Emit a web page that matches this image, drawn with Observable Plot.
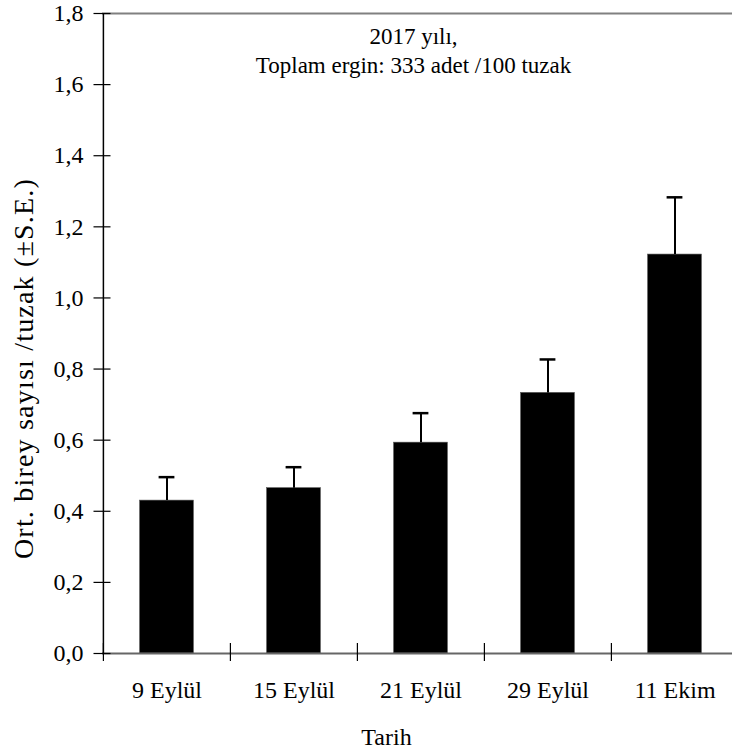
<!DOCTYPE html>
<html>
<head>
<meta charset="utf-8">
<script src="https://cdn.jsdelivr.net/npm/d3@7"></script>
<script src="https://cdn.jsdelivr.net/npm/@observablehq/plot@0.6"></script>
<style>
  html, body { margin: 0; padding: 0; background: #fff; }
</style>
</head>
<body>
<div id="chart"></div>
<script>
// Categories (sampling dates)
const dates = ["9 Eylül", "15 Eylül", "21 Eylül", "29 Eylül", "11 Ekim"];
// Mean individuals per trap
const means = [0.43, 0.465, 0.593, 0.733, 1.122];
// Standard errors
const errors = [0.066, 0.059, 0.083, 0.094, 0.161];
// Y tick values
const yTicks = [0, 0.2, 0.4, 0.6, 0.8, 1.0, 1.2, 1.4, 1.6, 1.8];
// Texts
const titleText = "2017 yılı,\nToplam ergin: 333 adet /100 tuzak";
const yLabel = "Ort. birey sayısı /tuzak (±S.E.)";
const xLabel = "Tarih";

const data = dates.map((d, i) => ({date: d, mean: means[i], se: errors[i]}));

const W = 732, H = 756;
const mL = 102, mT = 13, mB = 103;
const xRange = [102, 738];
const step = (xRange[1] - xRange[0]) / dates.length;
const barW = 54, capW = 16;
const fmt = d => d.toFixed(1).replace(".", ",");
const font = "Liberation Serif, Times New Roman, serif";

const chart = Plot.plot({
  width: W, height: H,
  marginLeft: mL, marginRight: 0, marginTop: mT, marginBottom: mB,
  style: {fontFamily: font, fontSize: "24px", background: "#fff", color: "#000"},
  x: {domain: dates, range: xRange, padding: 0, axis: null},
  y: {domain: [0, 1.8], axis: null},
  marks: [
    Plot.ruleY([1.8], {stroke: "#808080", strokeWidth: 2}),
    Plot.barY(data, {x: "date", y: "mean", fill: "#000", stroke: "#555", strokeWidth: 0.6,
      insetLeft: (step - barW) / 2, insetRight: (step - barW) / 2}),
    Plot.ruleX(data, {x: "date", y1: "mean", y2: d => d.mean + d.se, stroke: "#000", strokeWidth: 2}),
    Plot.tickY(data, {x: "date", y: d => d.mean + d.se, stroke: "#000", strokeWidth: 2.5,
      insetLeft: (step - capW) / 2, insetRight: (step - capW) / 2}),
    Plot.ruleY([0], {stroke: "#666", strokeWidth: 2}),
    Plot.ruleX([dates[0]], {x: d => d, dx: -step / 2, y1: 0, y2: 1.8, stroke: "#000", strokeWidth: 1.5}),
    // Y axis: labels
    Plot.axisY(yTicks, {anchor: "left", tickFormat: fmt, tickSize: 0, tickPadding: 19, fontSize: 24, fontFamily: font, label: null}),
    // Y axis: crossing ticks (no labels)
    Plot.axisY(yTicks, {anchor: "left", tickFormat: () => "", tickSize: 17, dx: 8.5, stroke: "#000", strokeWidth: 1.2, label: null}),
    // X axis: labels at band centres
    Plot.axisX({anchor: "bottom", tickSize: 0, tickPadding: 27, fontSize: 24, fontFamily: font, label: null}),
    // X axis: crossing ticks at band boundaries (no labels)
    Plot.axisX({anchor: "bottom", tickFormat: () => "", tickSize: 18, dx: -step / 2, dy: -10, stroke: "#000", strokeWidth: 1.2, label: null}),
    // Title
    Plot.text([titleText], {frameAnchor: "top", text: d => d, dx: -4, dy: 36, lineAnchor: "middle", lineHeight: 1.26, fontSize: 23, fontFamily: font, fill: "#000"}),
    // Y label
    Plot.text([yLabel], {frameAnchor: "left", text: d => d, rotate: -90, dx: -78, dy: 35, textAnchor: "middle", lineAnchor: "middle", fontSize: 28, fontFamily: font, fill: "#000"}),
    // X label
    Plot.text([xLabel], {frameAnchor: "bottom", text: d => d, dx: -31, dy: 84, lineAnchor: "middle", fontSize: 24, fontFamily: font, fill: "#000"})
  ]
});
// widen the y-axis title letter spacing to match the reference
d3.select(chart).selectAll("text").filter(function() { return this.textContent === yLabel; })
  .style("letter-spacing", "1.2px");
document.getElementById("chart").appendChild(chart);
</script>
</body>
</html>
